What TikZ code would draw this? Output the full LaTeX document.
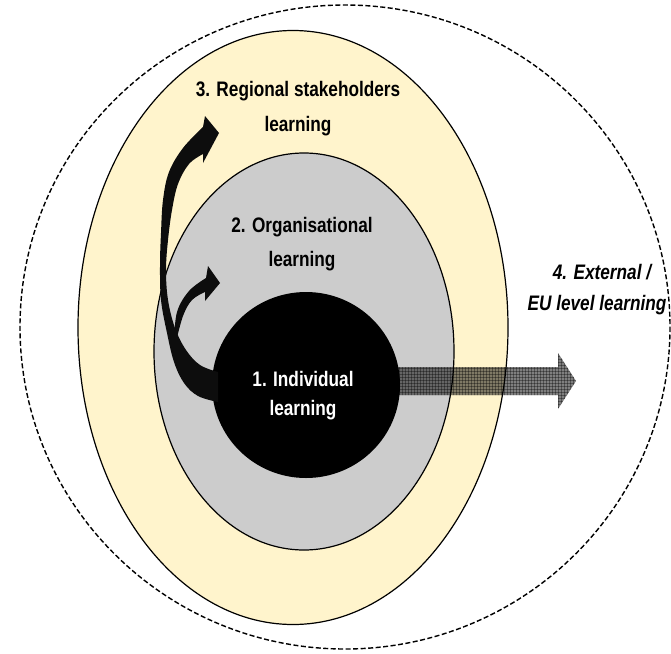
\documentclass[tikz,border=0pt]{standalone}
\usepackage{fontspec}
\setmainfont{Liberation Sans}[FakeStretch=0.82]
\usetikzlibrary{patterns}
\definecolor{regionyellow}{HTML}{FFF4CC}
\definecolor{orggray}{HTML}{CCCCCC}
\definecolor{arrowblack}{HTML}{0D0D0D}
\begin{document}
\begin{tikzpicture}[x=1pt,y=-1pt,
  lbl/.style={font=\fontsize{21}{25}\selectfont\bfseries, anchor=base, inner sep=0pt},
  ring/.style={draw=black, line width=1.2pt},
  curvedarrow/.style={fill=arrowblack, draw=none}]
\useasboundingbox (0,0) rectangle (671,653);
% outer dashed (external / EU level)
\draw[dash pattern=on 5pt off 2.5pt, line width=1.4pt] (345,327) ellipse [x radius=325, y radius=322];
% regional
\filldraw[ring, fill=regionyellow] (293,327.5) ellipse [x radius=215, y radius=297];
% organisational
\filldraw[ring, fill=orggray] (304,351.5) ellipse [x radius=150, y radius=198.5];
% horizontal arrow
\fill[black, opacity=0.5] (380,367) -- (558,367) -- (558,353) -- (576,381) -- (558,409) -- (558,395) -- (380,395) -- cycle;
\fill[pattern=grid, pattern color=black, opacity=0.35] (380,367) -- (558,367) -- (558,353) -- (576,381) -- (558,409) -- (558,395) -- (380,395) -- cycle;
% individual
\fill[black] (306,385) ellipse [x radius=94, y radius=93];
% big curved arrow
\fill[curvedarrow] plot[smooth, tension=0.6] coordinates {(218,402) (198,396) (184,383) (174,362) (167,333) (161,300) (160,265) (161,233) (163,200) (169,172) (183,148) (203,127)}
  -- (205,116) -- (219,133) -- (203,163) -- (203,154)
  -- plot[smooth, tension=0.6] coordinates {(203,154) (189,164) (178,184) (172,210) (168,240) (166,270) (168,300) (175,328) (186,350) (200,365) (218,372)} -- cycle;
% small curved arrow
\fill[curvedarrow] plot[smooth, tension=0.6] coordinates {(174,342) (177,312) (189,291) (206,278)}
  -- (208,266) -- (220,283) -- (205,301) -- (205,292)
  -- plot[smooth, tension=0.6] coordinates {(205,292) (192,300) (183,316) (176,342)} -- cycle;
% labels
\node[lbl] (reg1) at (298,96) {3. Regional stakeholders};
\node[lbl] (reg2) at (298,131) {learning};
\node[lbl] (org1) at (302,232) {2. Organisational};
\node[lbl] (org2) at (302,266) {learning};
\node[lbl, text=white] (ind1) at (303,386) {1. Individual};
\node[lbl, text=white] (ind2) at (303,415) {learning};
\node[lbl, font=\fontsize{21}{25}\selectfont\bfseries\itshape] (ext1) at (602,279) {4. External /};
\node[lbl, font=\fontsize{21}{25}\selectfont\bfseries\itshape] (ext2) at (597,310) {EU level learning};
\end{tikzpicture}
\end{document}
